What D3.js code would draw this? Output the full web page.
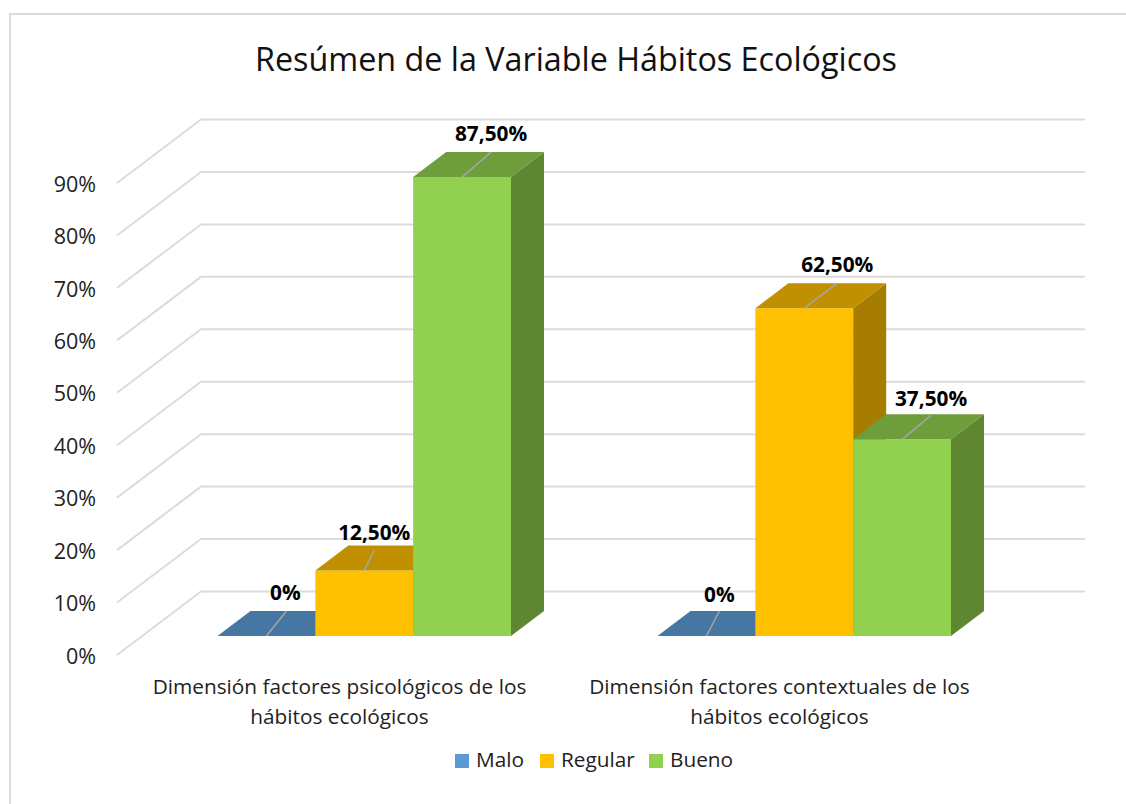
<!DOCTYPE html>
<html><head><meta charset="utf-8">
<script src="https://cdn.jsdelivr.net/npm/d3@7/dist/d3.min.js"></script>
<style>html,body{margin:0;padding:0;background:#fff}svg{display:block}text{font-family:"Open Sans",sans-serif;fill:#111}</style>
</head><body><svg id="c" width="1126" height="804"></svg>
<script>
const title = "Resúmen de la Variable Hábitos Ecológicos";
const categories = ["Dimensión factores psicológicos de los hábitos ecológicos","Dimensión factores contextuales de los hábitos ecológicos"];
const categoryLines = [["Dimensión factores psicológicos de los","hábitos ecológicos"],["Dimensión factores contextuales de los","hábitos ecológicos"]];
const seriesNames = ["Malo","Regular","Bueno"];
const malo = [0,0];
const regular = [12.5,62.5];
const bueno = [87.5,37.5];
const valueLabels = [["0%","0%"],["12,50%","62,50%"],["87,50%","37,50%"]];
const yTicks = [0,10,20,30,40,50,60,70,80,90];
const seriesValues = [malo,regular,bueno];

const front = ["#5b9bd5","#ffc000","#92d050"], top_ = ["#4676a2","#c09000","#6e9d3c"], side = ["#3d6990","#a67d00","#5f8631"];
const wallX = [117,201], gridRight = 1085, wallDepth = -63.5;
const svg = d3.select("#c");
svg.append("rect").attr("x",10).attr("y",14).attr("width",1200).attr("height",1000).attr("fill","#fff").attr("stroke","#d9d9d9").attr("stroke-width",2);
svg.append("text").attr("x",576).attr("y",71).attr("text-anchor","middle").style("font-size","32.3px").text(title);

const y = d3.scaleLinear().domain([0,90]).range([655,183]);
const gridG = svg.append("g");
yTicks.forEach(t=>{
  const p=d3.path(); p.moveTo(wallX[0],y(t)); p.lineTo(wallX[1],y(t)+wallDepth); p.lineTo(gridRight,y(t)+wallDepth);
  gridG.append("path").attr("d",p.toString()).attr("fill","none").attr("stroke","#dcdcdc").attr("stroke-width",2);
});
const axisG = svg.append("g").attr("transform","translate(96,0)").call(d3.axisLeft(y).tickValues(yTicks).tickFormat(d=>d+"%").tickSize(0).tickPadding(0));
axisG.select(".domain").remove();
axisG.selectAll("text").style("font-size","21.5px").attr("dy","0.38em").style("fill","#222");

const x0 = d3.scaleBand().domain(categories).range([144.5,1024.5]);
const x1 = d3.scaleBand().domain(seriesNames).range([73,366.5]);
const floorOffset = -19, dx = 33, dy = -25;
const by = v => y(v)+floorOffset;
const labelDx = [[20,13],[10,33],[29,29]];
const textNudge = [[-1,0],[0,0],[0,0]];
const labelGap = [[-11,-9],[-5,-11],[-11,-8]];
const leaderRise = [[25,25],[20,25],[25,24]];
const g = svg.append("g");
const poly=(pts,f)=>g.append("polygon").attr("points",pts.map(p=>p.join(",")).join(" ")).attr("fill",f);
categories.forEach((c,ci)=>{
  seriesNames.forEach((s,si)=>{
    const v=seriesValues[si][ci], xl=x0(c)+x1(s), xr=xl+x1.bandwidth(), yt=by(v), yb=by(0);
    if(v>0){
      poly([[xr,yt],[xr+dx,yt+dy],[xr+dx,yb+dy],[xr,yb]],side[si]);
      poly([[xl,yb],[xr,yb],[xr,yt],[xl,yt]],front[si]);
    }
    poly([[xl,yt],[xr,yt],[xr+dx,yt+dy],[xl+dx,yt+dy]],top_[si]);
  });
});
categories.forEach((c,ci)=>{
  seriesNames.forEach((s,si)=>{
    const v=seriesValues[si][ci], xl=x0(c)+x1(s), xc=xl+x1.bandwidth()/2, yt=by(v);
    const lx=xc+labelDx[si][ci];
    g.append("line").attr("x1",xc).attr("y1",yt).attr("x2",lx).attr("y2",yt-leaderRise[si][ci]).attr("stroke","#a6a6a6").attr("stroke-width",1.5);
    g.append("text").attr("x",lx+textNudge[si][ci]).attr("y",yt+dy+labelGap[si][ci]).attr("text-anchor","middle").style("font-size","20.8px").style("font-weight","700").style("fill","#000").text(valueLabels[si][ci]);
  });
});
categories.forEach((c,ci)=>{
  const cx=x0(c)+x0.bandwidth()/2-25;
  categoryLines[ci].forEach((l,i)=>svg.append("text").attr("x",cx).attr("y",694+i*29.5).attr("text-anchor","middle").style("font-size","20.8px").style("fill","#222").text(l));
});
const legendX=[455,540,649], legendTextX=[476,561,670];
seriesNames.forEach((s,i)=>{
  svg.append("rect").attr("x",legendX[i]).attr("y",754).attr("width",14).attr("height",14).attr("fill",front[i]);
  svg.append("text").attr("x",legendTextX[i]).attr("y",767).style("font-size","20.8px").style("fill","#222").text(s);
});
</script></body></html>
